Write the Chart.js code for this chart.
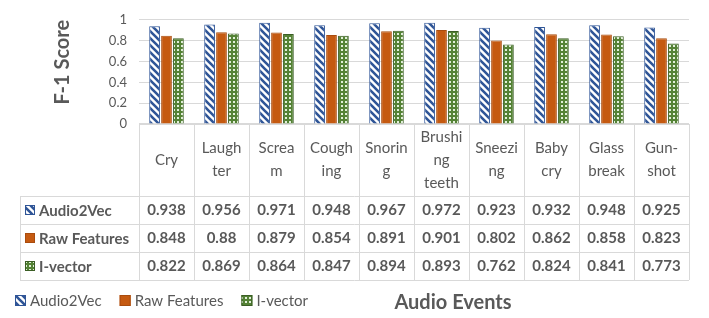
<!DOCTYPE html>
<html>
<head>
<meta charset="utf-8">
<script src="https://cdn.jsdelivr.net/npm/chart.js@4"></script>
<style>
    html, body { margin: 0; padding: 0; background: #ffffff; }
    #wrap { width: 709px; height: 318px; position: relative; }
</style>
</head>
<body>
<div id="wrap"><canvas id="f1ScoreChart"></canvas></div>
<script>
// Audio events (wrapped the way they appear in the table header)
const categories = [
    ['Cry'], ['Laugh', 'ter'], ['Screa', 'm'], ['Cough', 'ing'], ['Snorin', 'g'],
    ['Brushi', 'ng', 'teeth'], ['Sneezi', 'ng'], ['Baby', 'cry'], ['Glass', 'break'], ['Gun-', 'shot']
];
const seriesNames = ['Audio2Vec', 'Raw Features', 'I-vector'];
const audio2vecScores = [0.938, 0.956, 0.971, 0.948, 0.967, 0.972, 0.923, 0.932, 0.948, 0.925];
const rawFeatureScores = [0.848, 0.88, 0.879, 0.854, 0.891, 0.901, 0.802, 0.862, 0.858, 0.823];
const iVectorScores = [0.822, 0.869, 0.864, 0.847, 0.894, 0.893, 0.762, 0.824, 0.841, 0.773];
const yTicks = [0, 0.2, 0.4, 0.6, 0.8, 1];

const textColor = '#595959';
const lineColor = '#d9d9d9';
const fontFamily = 'Lato, "Open Sans", sans-serif';

function makeStripePattern() {
    const n = 7;
    const c = document.createElement('canvas');
    c.width = n;
    c.height = n;
    const g = c.getContext('2d');
    g.fillStyle = '#ffffff';
    g.fillRect(0, 0, n, n);
    g.strokeStyle = '#2f5597';
    g.lineWidth = 2.6;
    g.beginPath();
    g.moveTo(-1, -1); g.lineTo(n + 1, n + 1);
    g.moveTo(-n - 1, -1); g.lineTo(1, n + 1);
    g.moveTo(n - 1, -1); g.lineTo(2 * n + 1, n + 1);
    g.stroke();
    return g.createPattern(c, 'repeat');
}

function makeDotPattern() {
    const c = document.createElement('canvas');
    c.width = 4;
    c.height = 4;
    const g = c.getContext('2d');
    g.fillStyle = '#548235';
    g.fillRect(0, 0, 4, 4);
    g.fillStyle = '#e2efd9';
    g.fillRect(1, 1, 2, 2);
    return g.createPattern(c, 'repeat');
}

const seriesFills = [makeStripePattern(), '#c55a11', makeDotPattern()];
const seriesBorders = ['#2f5597', '#a94c0e', '#3b5e25'];
const seriesValues = [audio2vecScores, rawFeatureScores, iVectorScores];

function drawMarker(ctx, i, x, y, size) {
    ctx.fillStyle = seriesFills[i];
    ctx.fillRect(x, y, size, size);
    ctx.strokeStyle = seriesBorders[i];
    ctx.lineWidth = 1;
    ctx.strokeRect(x + 0.5, y + 0.5, size - 1, size - 1);
}

// Data table under the plot, bottom legend and x-axis title
const dataTablePlugin = {
    id: 'dataTable',
    afterDraw(chart) {
        const ctx = chart.ctx;
        const area = chart.chartArea;
        const xScale = chart.scales.x;
        const colW = (area.right - area.left) / categories.length;
        const headTop = Math.round(area.bottom);
        const headBottom = 196;
        const rowH = 28;
        const tableBottom = headBottom + rowH * seriesNames.length;
        const tableLeft = 20;

        ctx.save();
        ctx.strokeStyle = lineColor;
        ctx.lineWidth = 1;
        ctx.beginPath();
        // top of header row
        ctx.moveTo(area.left, headTop + 0.5);
        ctx.lineTo(area.right, headTop + 0.5);
        // row lines
        for (let r = 0; r <= seriesNames.length; r++) {
            const y = headBottom + r * rowH + 0.5;
            ctx.moveTo(tableLeft, y);
            ctx.lineTo(area.right, y);
        }
        // column lines
        for (let c = 0; c <= categories.length; c++) {
            const x = Math.round(area.left + c * colW) + 0.5;
            ctx.moveTo(x, headTop);
            ctx.lineTo(x, tableBottom);
        }
        ctx.moveTo(tableLeft + 0.5, headBottom);
        ctx.lineTo(tableLeft + 0.5, tableBottom);
        ctx.stroke();

        ctx.fillStyle = textColor;
        ctx.textAlign = 'center';
        ctx.textBaseline = 'middle';

        // header labels
        ctx.font = '15px ' + fontFamily;
        const headMid = (headTop + headBottom) / 2;
        categories.forEach((lines, i) => {
            const cx = xScale.getPixelForValue(i);
            const lh = 23;
            const start = headMid - (lines.length - 1) * lh / 2;
            lines.forEach((t, k) => ctx.fillText(t, cx, start + k * lh));
        });

        // values
        ctx.font = 'bold 15px ' + fontFamily;
        seriesValues.forEach((vals, r) => {
            const cy = headBottom + r * rowH + rowH / 2;
            vals.forEach((v, i) => {
                ctx.fillText(String(v), xScale.getPixelForValue(i), cy);
            });
        });

        // row headers
        ctx.textAlign = 'left';
        seriesNames.forEach((name, r) => {
            const cy = headBottom + r * rowH + rowH / 2;
            drawMarker(ctx, r, 25, Math.round(cy - 5), 10);
            ctx.fillStyle = textColor;
            ctx.fillText(name, 39, cy + 1);
        });

        // bottom legend
        ctx.font = '15px ' + fontFamily;
        let lx = 15;
        const ly = 300;
        seriesNames.forEach((name, i) => {
            drawMarker(ctx, i, lx, ly - 5, 11);
            ctx.fillStyle = textColor;
            ctx.fillText(name, lx + 15, ly + 1);
            lx += 15 + ctx.measureText(name).width + 18;
        });

        // x-axis title
        ctx.font = 'bold 20px ' + fontFamily;
        ctx.textAlign = 'center';
        ctx.fillText('Audio Events', 453, 303);
        ctx.restore();
    }
};

const ctx = document.getElementById('f1ScoreChart').getContext('2d');

new Chart(ctx, {
    type: 'bar',
    data: {
        labels: categories,
        datasets: seriesNames.map((name, i) => ({
            label: name,
            data: seriesValues[i],
            backgroundColor: seriesFills[i],
            borderColor: seriesBorders[i],
            borderWidth: 1,
            categoryPercentage: 0.65,
            barPercentage: 0.9
        }))
    },
    options: {
        responsive: true,
        maintainAspectRatio: false,
        animation: false,
        layout: {
            padding: { top: 10, right: 20, bottom: 194, left: 47 }
        },
        plugins: {
            legend: { display: false },
            tooltip: { enabled: false }
        },
        scales: {
            x: {
                display: false
            },
            y: {
                min: 0,
                max: 1,
                afterBuildTicks: s => { s.ticks = yTicks.map(v => ({ value: v })); },
                afterFit: s => { s.width = 92; },
                grid: { color: lineColor, drawTicks: false },
                border: { display: false },
                ticks: {
                    padding: 12,
                    color: textColor,
                    font: { family: fontFamily, size: 13 },
                    callback: v => String(v)
                },
                title: {
                    display: true,
                    text: 'F-1 Score',
                    align: 'end',
                    color: textColor,
                    font: { family: fontFamily, size: 20, weight: 'bold' }
                }
            }
        }
    },
    plugins: [dataTablePlugin]
});
</script>
</body>
</html>
